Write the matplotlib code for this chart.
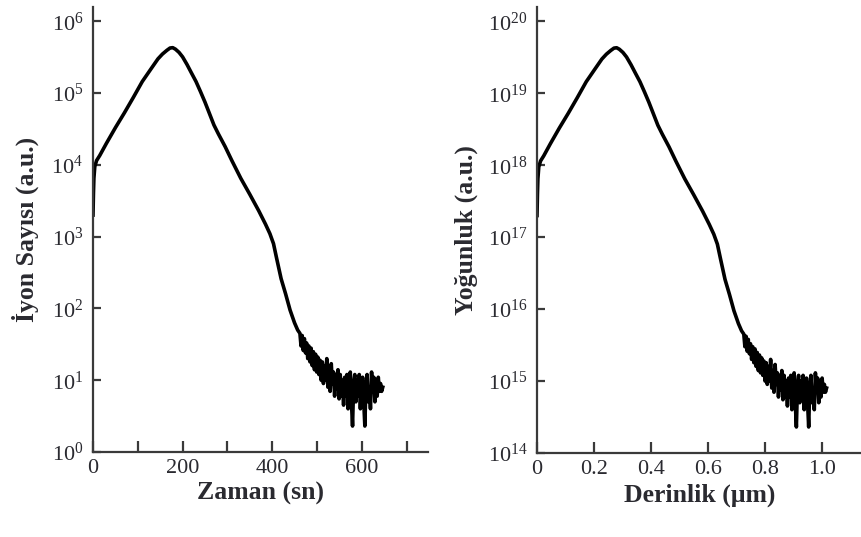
import matplotlib
matplotlib.use('Agg')
import matplotlib.pyplot as plt

plt.rcParams['font.family'] = ['Liberation Serif', 'DejaVu Serif']
plt.rcParams['mathtext.fontset'] = 'custom'
plt.rcParams['mathtext.rm'] = 'Liberation Serif'
plt.rcParams['mathtext.it'] = 'Liberation Serif:italic'
plt.rcParams['mathtext.bf'] = 'Liberation Serif:bold'

# SIMS profile: time (sn) vs ion count (a.u.)
time = [0, 1, 2, 4, 8, 15, 30, 50, 70, 90, 110, 130, 145, 155, 165, 172,
        178, 184, 192, 200, 210, 220, 230, 240, 250, 260, 270, 280, 295,
        310, 330, 350, 370, 385, 395, 403, 410, 420, 430, 440, 450, 457,
        462, 464.5, 467, 469.5, 472, 474.5, 477, 479.5, 482, 484.5, 487,
        489.5, 492, 494.5, 497, 499.5, 502, 504.5, 507, 509.5, 512, 514.5,
        517, 519.5, 522, 524.5, 527, 529.5, 532, 534.5, 537, 539.5, 542,
        544.5, 547, 549.5, 552, 554.5, 557, 559.5, 562, 564.5, 567, 569.5,
        572, 574.5, 577, 579.5, 582, 584.5, 587, 589.5, 592, 594.5, 597,
        599.5, 602, 604.5, 607, 609.5, 612, 614.5, 617, 619.5, 622, 624.5,
        627, 629.5, 632, 634.5, 637, 639.5, 642, 644.5, 647]
counts = [2e3, 4e3, 6.5e3, 9.5e3, 1.15e4, 1.35e4, 2.0e4, 3.3e4, 5.3e4, 8.7e4,
          1.45e5, 2.2e5, 3.0e5, 3.5e5, 3.95e5, 4.25e5, 4.3e5, 4.1e5, 3.7e5,
          3.2e5, 2.5e5, 1.9e5, 1.45e5, 1.05e5, 7.5e4, 5.2e4, 3.6e4, 2.7e4,
          1.8e4, 1.15e4, 6.5e3, 3.9e3, 2.3e3, 1.5e3, 1.1e3, 8e2, 5e2, 2.6e2,
          1.6e2, 9.5e1, 6.3e1, 5e1,
          45, 30, 42, 26, 38, 24, 33, 20, 30, 18, 28,
          16, 25, 14, 23, 13, 21, 12, 19, 10, 18, 9,
          16, 10, 20, 8, 14, 7, 17, 9, 13, 6, 12,
          7.5, 14, 5.5, 12, 6, 10, 4.5, 11, 6, 12, 4,
          10, 13, 5, 2.3, 9, 12, 5, 10, 6, 12, 4,
          9, 11, 5, 2.3, 9, 12, 5, 8, 4, 13, 7,
          11, 5, 10, 6, 11, 7, 9, 7, 8]

# same profile converted to depth (um) and concentration
sputter_rate = 0.00157   # um per sn
conc_scale = 1e14
depth = [t * sputter_rate for t in time]
density = [c * conc_scale for c in counts]

fig = plt.figure(figsize=(8.62, 5.37), dpi=100)
ax1 = fig.add_axes([93 / 862, 85 / 537, 335 / 862, 445 / 537])
ax2 = fig.add_axes([537 / 862, 84 / 537, 325 / 862, 446 / 537])

col = '#2a2a30'
spc = '#3a3a3a'

ax1.semilogy(time, counts, color='black', lw=2.6)
ax1.set_xlim(0, 748)
ax1.set_ylim(1, 10 ** 6.2)
ax1.set_xticks([0, 100, 200, 300, 400, 500, 600, 700])
ax1.set_xticklabels(['0', '', '200', '', '400', '', '600', ''])
ax1.set_yticks([1, 1e1, 1e2, 1e3, 1e4, 1e5, 1e6])
ax1.set_xlabel('Zaman (sn)', fontsize=18.5, fontweight='bold', color=col, labelpad=3)
ax1.set_ylabel('İyon Sayısı (a.u.)', fontsize=18.5, fontweight='bold', color=col, labelpad=9)

ax2.semilogy(depth, density, color='black', lw=2.6)
ax2.set_xlim(0, 1.14)
ax2.set_ylim(1e14, 10 ** 20.2)
ax2.set_xticks([0, 0.2, 0.4, 0.6, 0.8, 1.0])
ax2.set_xticklabels(['0', '0.2', '0.4', '0.6', '0.8', '1.0'])
ax2.set_yticks([1e14, 1e15, 1e16, 1e17, 1e18, 1e19, 1e20])
ax2.set_xlabel('Derinlik (μm)', fontsize=18.5, fontweight='bold', color=col, labelpad=3)
ax2.set_ylabel('Yoğunluk (a.u.)', fontsize=18.5, fontweight='bold', color=col, labelpad=7)

for ax in (ax1, ax2):
    ax.minorticks_off()
    ax.spines['top'].set_visible(False)
    ax.spines['right'].set_visible(False)
    for s in ('left', 'bottom'):
        ax.spines[s].set_linewidth(1.6)
        ax.spines[s].set_color(spc)
    ax.tick_params(direction='in', width=1.6, color=spc,
                   labelsize=16, labelcolor=col)
    ax.tick_params(axis='x', length=8, pad=5)
    ax.tick_params(axis='y', length=6, pad=7)

plt.savefig('out.png', dpi=100)
